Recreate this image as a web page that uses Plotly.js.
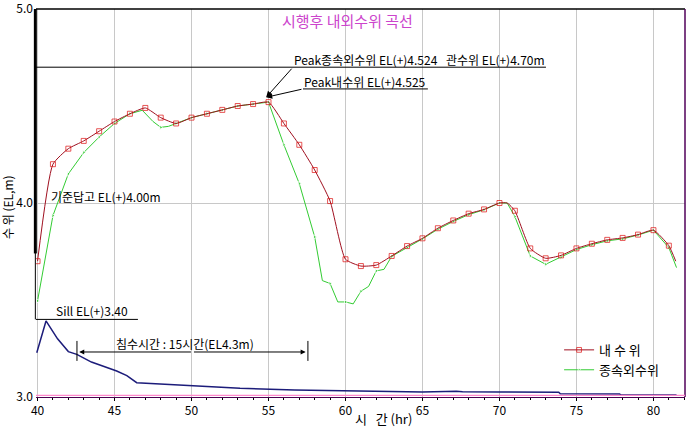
<!DOCTYPE html>
<html>
<head>
<meta charset="utf-8">
<script src="https://cdn.plot.ly/plotly-3.0.1.min.js"></script>
<style>html,body{margin:0;padding:0;background:#fff;}#chart{width:695px;height:428px;}</style>
</head>
<body>
<div id="chart"></div>
<script>
// ---- data ----
const innerHours = [40,41,42,43,44,45,46,47,48,49,50,51,52,53,54,55,56,57,58,59,60,61,62,63,64,65,66,67,68,69,70,70.5,71,72,73,74,75,76,77,78,79,80,81,81.45];
const innerLevel = [3.70,4.20,4.28,4.32,4.37,4.42,4.46,4.49,4.44,4.41,4.44,4.46,4.48,4.50,4.51,4.52,4.41,4.30,4.17,4.01,3.71,3.675,3.68,3.727,3.778,3.818,3.87,3.91,3.945,3.967,4.00,4.00,3.96,3.766,3.715,3.73,3.766,3.79,3.81,3.82,3.837,3.86,3.78,3.70];

const outerHours = [40,41,42,43,44,45,46,46.8,47.5,48,48.5,49,50,51,52,53,54,55,56,57,58,58.5,59,59.5,60,60.5,61,61.5,62,62.5,63,64,65,66,67,68,69,70,70.5,71,72,73,74,75,76,77,78,79,80,81,81.5];
const outerLevel = [3.495,3.935,4.15,4.26,4.34,4.41,4.46,4.478,4.42,4.39,4.395,4.41,4.44,4.46,4.48,4.50,4.51,4.52,4.30,4.10,3.825,3.60,3.585,3.49,3.49,3.48,3.545,3.57,3.65,3.658,3.725,3.77,3.815,3.865,3.905,3.94,3.965,4.00,4.00,3.93,3.727,3.684,3.72,3.76,3.785,3.805,3.815,3.835,3.86,3.77,3.667];

const sillHours = [39.95,40.55,41.3,42.0,42.55,43.5,45.14,45.8,46.44,48,50,53.15,56.7,60,62.45,65,67.2,67.6,70,73.85,73.95,77.8,77.9,81.5];
const sillLevel = [3.228,3.392,3.30,3.234,3.22,3.18,3.134,3.11,3.074,3.068,3.058,3.045,3.036,3.033,3.027,3.026,3.03,3.027,3.026,3.025,3.017,3.016,3.01,3.01];

const xTicks = [40,45,50,55,60,65,70,75,80];
const yTicks = [3,4,5];
const yTickText = ['3.0','4.0','5.0'];

const pipeLevel = 4.70, baseLevel = 4.00, sillCrest = 3.40;
const peakOuter = 4.524, peakInner = 4.525, peakHour = 54.85;
const floodStart = 42.56, floodEnd = 57.56, floodY = 3.232;

const KR = '"Noto Sans CJK KR", "Noto Sans", sans-serif';

function sizes(xs, s){ return xs.map(v => Number.isInteger(v) ? s : 0); }

const traces = [
  {x: sillHours, y: sillLevel, mode: 'lines', line: {color: '#1c1c7a', width: 1.5}, showlegend: false, hoverinfo: 'skip'},
  {x: outerHours, y: outerLevel, mode: 'lines+markers', name: '종속외수위', legendrank: 2,
   line: {color: '#33cc33', width: 1},
   marker: {symbol: 'triangle-right', size: sizes(outerHours, 4), color: '#33cc33'}},
  {x: innerHours, y: innerLevel, mode: 'lines+markers', name: '내 수 위', legendrank: 1,
   line: {color: '#a01020', width: 1, shape: 'spline', smoothing: 0.5},
   marker: {symbol: 'square-open', size: sizes(innerHours, 5), color: '#dd1010', line: {width: 1}}}
];

const ann = (text, x, y, extra) => Object.assign({text, x, y, xref: 'x', yref: 'y', showarrow: false,
  font: {family: KR, size: 12, color: '#000'}, xanchor: 'left', yanchor: 'bottom', borderpad: 0, yshift: -2}, extra || {});

const annotations = [
  ann('시행후 내외수위 곡선', 60.1, 4.94, {xanchor: 'center', yanchor: 'middle', yshift: 0, font: {family: KR, size: 15, color: '#cc44cc'}}),
  ann('Peak종속외수위 EL(+)' + peakOuter.toFixed(3), 56.59, pipeLevel),
  ann('관수위 EL(+)' + pipeLevel.toFixed(2) + 'm', 66.46, pipeLevel),
  ann('Peak내수위 EL(+)' + peakInner.toFixed(3), 57.24, 4.588),
  ann('기준답고 EL(+)' + baseLevel.toFixed(2) + 'm', 40.81, baseLevel, {yshift: -3}),
  ann('Sill EL(+)' + sillCrest.toFixed(2), 41.14, sillCrest, {yshift: -1}),
  ann('침수시간 : 15시간(EL4.3m)', 45.06, 3.278, {yanchor: 'middle', yshift: 0}),
  // arrows
  {x: peakHour, y: 4.545, ax: 56.59, ay: pipeLevel, axref: 'x', ayref: 'y', xref: 'x', yref: 'y', text: '', showarrow: true, arrowhead: 2, arrowsize: 1.2, arrowwidth: 1, arrowcolor: '#000'},
  {x: peakHour, y: 4.545, ax: 57.24, ay: 4.588, axref: 'x', ayref: 'y', xref: 'x', yref: 'y', text: '', showarrow: true, arrowhead: 2, arrowsize: 1.2, arrowwidth: 1, arrowcolor: '#000'},
  {x: floodStart + 0.15, y: floodY, ax: (floodStart + floodEnd) / 2, ay: floodY, axref: 'x', ayref: 'y', xref: 'x', yref: 'y', text: '', showarrow: true, arrowhead: 2, arrowsize: 1, arrowwidth: 1, arrowcolor: '#000'},
  {x: floodEnd - 0.15, y: floodY, ax: (floodStart + floodEnd) / 2, ay: floodY, axref: 'x', ayref: 'y', xref: 'x', yref: 'y', text: '', showarrow: true, arrowhead: 2, arrowsize: 1, arrowwidth: 1, arrowcolor: '#000'},
  // axis titles
  {text: '수 위 (EL,m)', xref: 'paper', yref: 'paper', x: -0.043, y: 0.49, textangle: -90, showarrow: false, xanchor: 'center', yanchor: 'middle', font: {family: KR, size: 12, color: '#000'}},
  {text: '시   간 (hr)', xref: 'paper', yref: 'paper', x: 0.535, y: -0.055, showarrow: false, xanchor: 'center', yanchor: 'middle', font: {family: KR, size: 13, color: '#000'}}
];

const ln = (x0, y0, x1, y1, color, width, refs) => Object.assign({type: 'line', x0, y0, x1, y1, xref: 'x', yref: 'y', line: {color, width}}, refs || {});

const shapes = [
  ln(39.9, pipeLevel, 73.02, pipeLevel, '#000', 1),
  ln(57.24, 4.588, 65.35, 4.588, '#000', 1),
  ln(39.9, sillCrest, 46.52, sillCrest, '#000', 1),
  ln(-0.001, sillCrest, -0.001, 5, '#000', 1, {xref: 'paper', yref: 'y'}),
  ln(-0.001, 3.74, -0.001, 5, '#000', 3, {xref: 'paper', yref: 'y'}),
  ln(floodStart, 3.186, floodStart, 3.289, '#000', 1),
  ln(floodEnd, 3.186, floodEnd, 3.289, '#000', 1),
  ln(0, 1, 1, 1, '#000', 1.5, {xref: 'paper', yref: 'paper'}),
  ln(1, 0, 1, 1, '#50005a', 1.5, {xref: 'paper', yref: 'paper'}),
  ln(0, 0.004, 1, 0.004, '#ff88cc', 1.2, {xref: 'paper', yref: 'paper'})
];

const layout = {
  width: 695, height: 428,
  margin: {l: 36, r: 10, t: 9, b: 31, pad: 0},
  paper_bgcolor: '#fff', plot_bgcolor: '#fff',
  font: {family: KR, size: 12, color: '#000'},
  showlegend: true,
  legend: {x: 0.806, y: 0.16, xanchor: 'left', yanchor: 'top', bgcolor: 'rgba(0,0,0,0)', font: {family: KR, size: 13, color: '#000'}, tracegroupgap: 0},
  xaxis: {range: [39.9, 82.05], tickvals: xTicks, ticktext: xTicks.map(String), showgrid: true, gridcolor: '#c8c8c8', gridwidth: 1,
          zeroline: false, showline: true, linecolor: '#4a0050', linewidth: 1, ticks: 'outside', ticklen: 3, tickcolor: '#000',
          minor: {dtick: 1, ticks: 'outside', ticklen: 2, tickcolor: '#000', showgrid: false},
          tickfont: {family: KR, size: 12}},
  yaxis: {range: [3, 5], tickvals: yTicks, ticktext: yTickText, showgrid: true, gridcolor: '#c8c8c8', zeroline: false, showline: false,
          ticks: '', ticklabelstandoff: 2, ticklabeloverflow: 'allow', tickfont: {family: KR, size: 12}},
  annotations, shapes
};

Plotly.newPlot('chart', traces, layout, {staticPlot: true, displayModeBar: false});
</script>
</body>
</html>
